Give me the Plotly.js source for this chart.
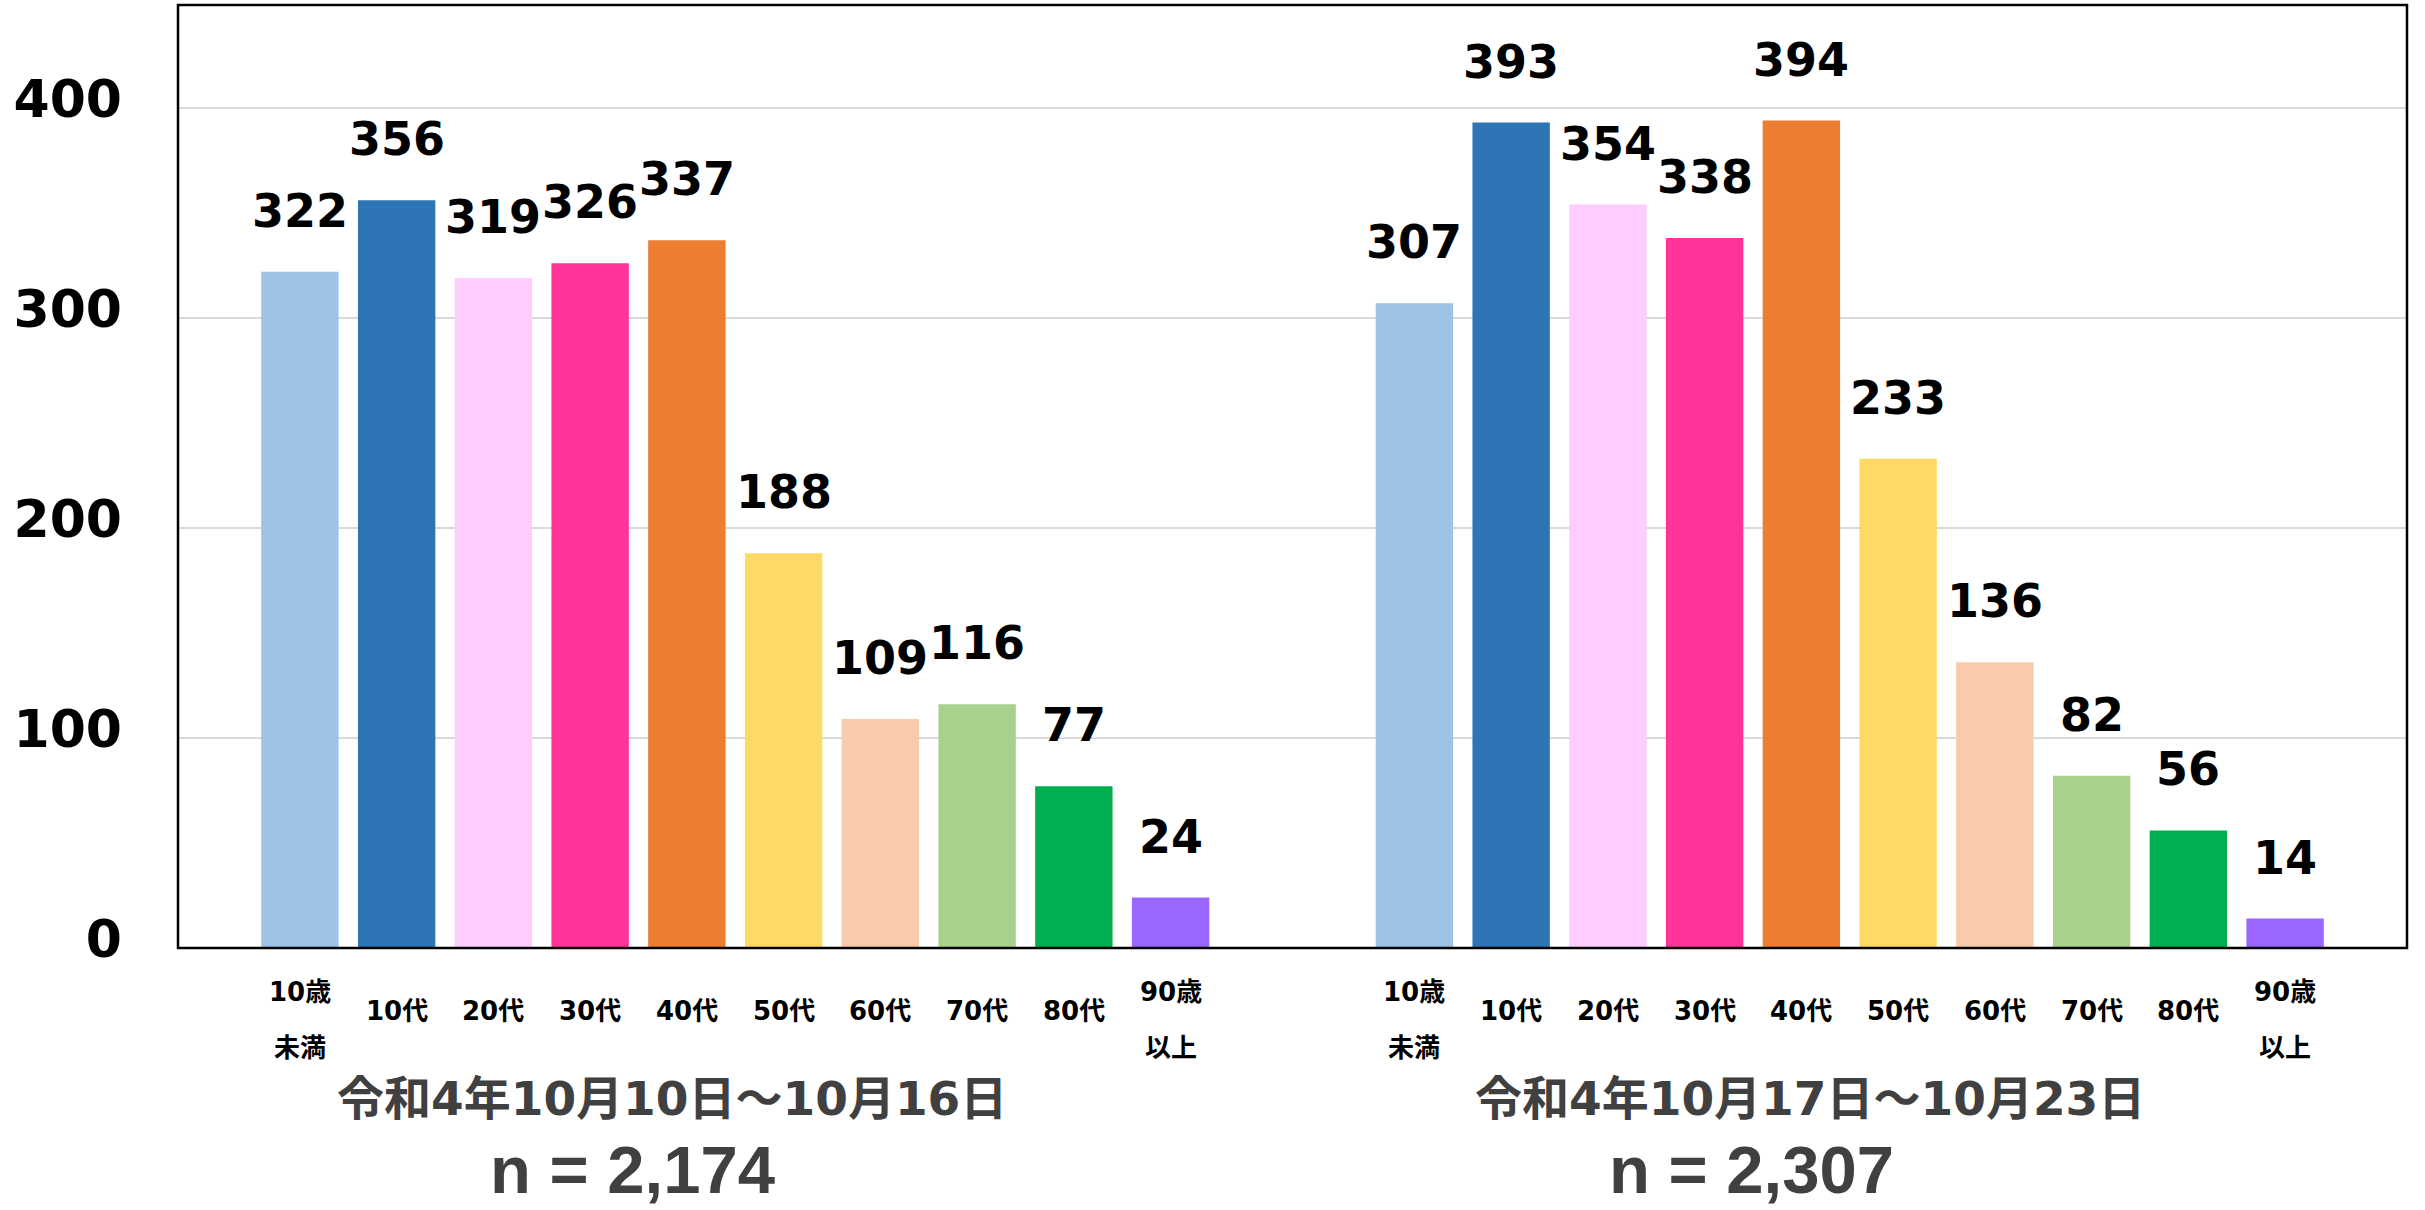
<!DOCTYPE html>
<html>
<head>
<meta charset="utf-8">
<script src="https://cdn.plot.ly/plotly-3.0.1.min.js"></script>
<style>html,body{margin:0;padding:0;background:#fff;}#chart{width:2425px;height:1210px;}</style>
</head>
<body>
<div id="chart"></div>
<script>
// ---- data ----
const categories = ['10歳未満','10代','20代','30代','40代','50代','60代','70代','80代','90歳以上'];
const tickLabels = ['10歳<br>未満','10代','20代','30代','40代','50代','60代','70代','80代','90歳<br>以上'];
const week1 = [322,356,319,326,337,188,109,116,77,24];
const week2 = [307,393,354,338,394,233,136,82,56,14];
const colors = ['#9DC3E6','#2E75B6','#FFCCFF','#FF3399','#ED7D31','#FFD966','#F8CBAD','#A9D18E','#00B050','#9966FF'];
const periodLabels = ['令和4年10月10日～10月16日','令和4年10月17日～10月23日'];
const totals = ['n = 2,174','n = 2,307'];
const yTicks = [0,100,200,300,400];

// ---- build ----
const series = [week1, week2];
const xRefs = ['x','x2'];
const traces = series.map((vals, k) => ({
  type: 'bar',
  x: categories,
  y: vals,
  xaxis: xRefs[k],
  yaxis: 'y',
  marker: {color: colors, line: {width: 0}},
  hoverinfo: 'x+y'
}));

const latinCjk = 'DejaVu Sans, Noto Sans CJK JP, sans-serif';
const annotations = [];
series.forEach((vals, k) => {
  vals.forEach((v, i) => {
    annotations.push({
      x: categories[i], y: v, xref: xRefs[k], yref: 'y',
      text: String(v), showarrow: false, yanchor: 'bottom', yshift: 32,
      font: {family: 'DejaVu Sans, Verdana, sans-serif', size: 46, color: '#000000', weight: 'bold'}
    });
    const lines = tickLabels[i].split('<br>');
    const shifts = lines.length === 1 ? [-63] : [-44, -100];
    lines.forEach((ln, j) => {
      annotations.push({
        x: categories[i], y: 0, xref: xRefs[k], yref: 'paper',
        text: ln, showarrow: false, yanchor: 'middle', xanchor: 'center', yshift: shifts[j],
        font: {family: latinCjk, size: 26, color: '#000000', weight: 'bold'}
      });
    });
  });
});
const periodX = [0.2216, 0.7322];
const totalX = [0.2037, 0.7057];
periodLabels.forEach((t, k) => {
  annotations.push({
    x: periodX[k], y: 0, xref: 'paper', yref: 'paper', text: t, showarrow: false,
    xanchor: 'center', yanchor: 'middle', yshift: -150,
    font: {family: latinCjk, size: 47, color: '#404040', weight: 'bold'}
  });
  annotations.push({
    x: totalX[k], y: 0, xref: 'paper', yref: 'paper', text: totals[k], showarrow: false,
    xanchor: 'center', yanchor: 'bottom', yshift: -261,
    font: {family: 'Liberation Sans, Arial, sans-serif', size: 67, color: '#404040', weight: 'bold'}
  });
});

const xaxisBase = {
  type: 'category', range: [-1.26, 10.26], showticklabels: false, showgrid: false,
  zeroline: false, showline: false, ticks: '', anchor: 'y', fixedrange: true
};

const layout = {
  width: 2425, height: 1210,
  margin: {l: 178, r: 18, t: 5, b: 262},
  paper_bgcolor: '#ffffff', plot_bgcolor: '#ffffff',
  showlegend: false,
  bargap: 0.2,
  xaxis: Object.assign({}, xaxisBase, {domain: [0, 0.5]}),
  xaxis2: Object.assign({}, xaxisBase, {domain: [0.5, 1]}),
  yaxis: {
    range: [0, 449], tickvals: yTicks, ticktext: yTicks.map(String),
    showgrid: true, gridcolor: '#d9d9d9', gridwidth: 2,
    zeroline: false, showline: false, ticks: '',
    ticklabelstandoff: 55, ticklabelshift: -9,
    tickfont: {family: 'DejaVu Sans, Verdana, sans-serif', size: 52, color: '#000000', weight: 'bold'},
    fixedrange: true
  },
  shapes: [{
    type: 'rect', xref: 'paper', yref: 'paper', x0: 0, x1: 1, y0: 0, y1: 1,
    line: {color: '#000000', width: 2.5}, layer: 'above'
  }],
  annotations: annotations
};

Plotly.newPlot('chart', traces, layout, {staticPlot: true, displayModeBar: false});
</script>
</body>
</html>
